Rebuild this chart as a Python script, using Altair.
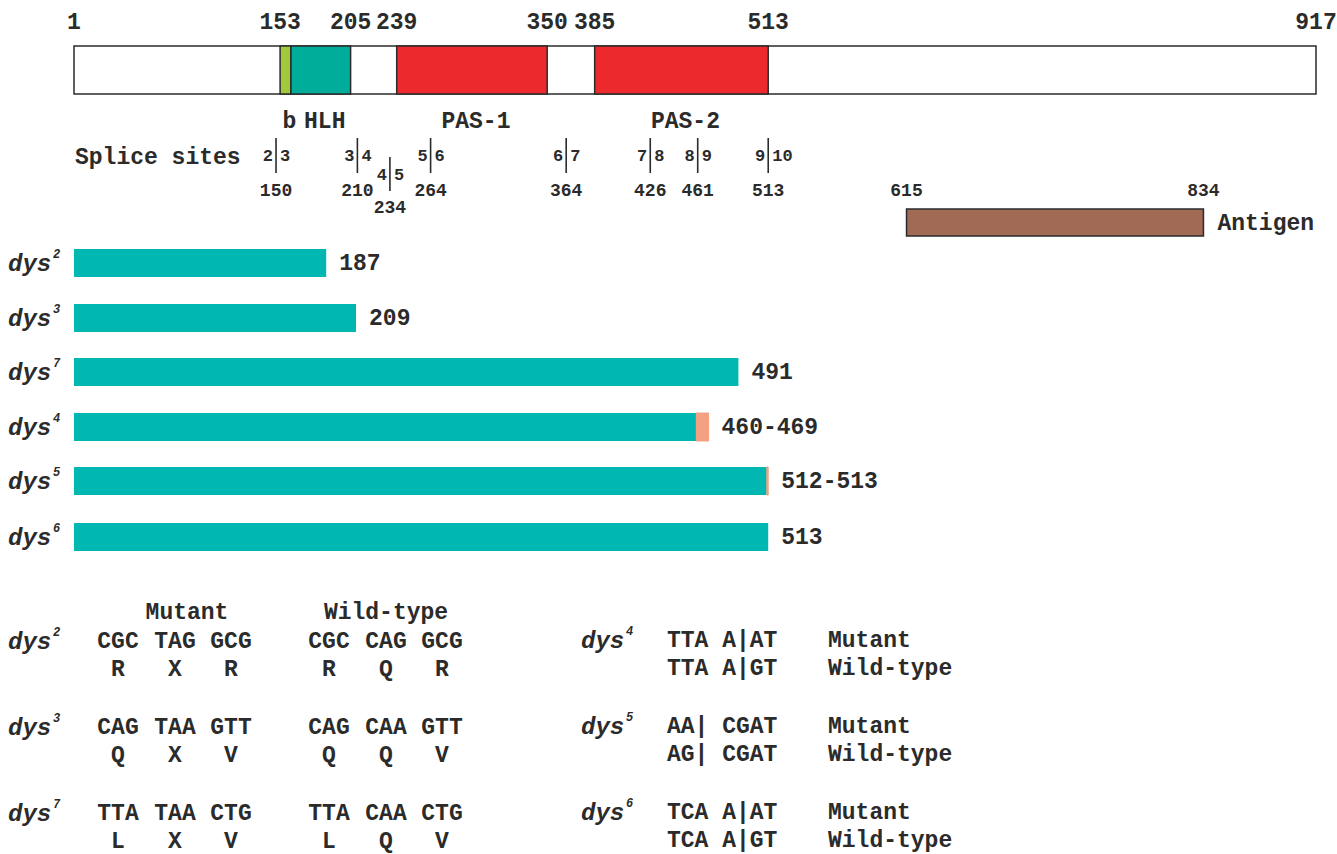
import altair as alt
import pandas as pd

# ---------------- data ----------------
PROTEIN_LEN = 917
domain_names = ["b", "HLH", "PAS-1", "PAS-2"]
domain_start = [153, 161, 239, 385]
domain_end = [161, 205, 350, 513]
domain_colors = ["#a2c93b", "#00ad9a", "#ec2a2e", "#ec2a2e"]
domain_text = ["b", "HLH", "PAS-1", "PAS-2"]

boundary_labels = [1, 153, 205, 239, 350, 385, 513, 917]

splice_pos = [150, 210, 234, 264, 364, 426, 461, 513]
splice_left = ["2", "3", "4", "5", "6", "7", "8", "9"]
splice_right = ["3", "4", "5", "6", "7", "8", "9", "10"]
splice_lowered = [False, False, True, False, False, False, False, False]

antigen_start, antigen_end = 615, 834

alleles = ["2", "3", "7", "4", "5", "6"]
trunc_end = [187, 209, 491, 460, 512, 513]
trunc_tip = [187, 209, 491, 469, 513, 513]
trunc_label = ["187", "209", "491", "460-469", "512-513", "513"]

nonsense_alleles = ["2", "3", "7"]
mut_codons = [["CGC", "TAG", "GCG"], ["CAG", "TAA", "GTT"], ["TTA", "TAA", "CTG"]]
mut_aa = [["R", "X", "R"], ["Q", "X", "V"], ["L", "X", "V"]]
wt_codons = [["CGC", "CAG", "GCG"], ["CAG", "CAA", "GTT"], ["TTA", "CAA", "CTG"]]
wt_aa = [["R", "Q", "R"], ["Q", "Q", "V"], ["L", "Q", "V"]]

splice_alleles = ["4", "5", "6"]
splice_mut = ["TTA A|AT", "AA| CGAT", "TCA A|AT"]
splice_wt = ["TTA A|GT", "AG| CGAT", "TCA A|GT"]

# ---------------- layout / style ----------------
FONT = "Liberation Mono"
INK = "#2b2b2b"
BAR = "#00b8b1"
TIP = "#f4a083"
ANTIGEN = "#a06a55"
FS = 23

RES = alt.Scale(domain=[1, PROTEIN_LEN], range=[74, 1316], nice=False, zero=False)
PX = alt.Scale(domain=[0, 1337], range=[0, 1337], nice=False, zero=False)
YS = alt.Scale(domain=[0, 854], range=[0, 854], nice=False, zero=False)

main_y = (46, 94)
row_y = [263, 318, 372, 427, 481, 537]
bar_half = 14
table_rows = [641, 727, 813]
aa_gap = 28
col_x = [118, 175, 231, 329, 386, 442]


def X(f, sc):
    return alt.X(f"{f}:Q", scale=sc, axis=None)


def Y(f):
    return alt.Y(f"{f}:Q", scale=YS, axis=None)


def texts(df, sc, size, align="center", style="normal", dx=0, dy=0, weight="bold"):
    return alt.Chart(df).mark_text(
        font=FONT, fontSize=size, fontWeight=weight, fontStyle=style,
        align=align, baseline="middle", dx=dx, dy=dy, color=INK
    ).encode(x=X("x", sc), y=Y("y"), text="t:N")


def rects(df, sc, **kw):
    return alt.Chart(df).mark_rect(**kw).encode(
        x=X("x", sc), x2="x2:Q", y=Y("y"), y2="y2:Q"
    )


layers = []

# main protein bar
layers.append(rects(pd.DataFrame({"x": [1], "x2": [PROTEIN_LEN], "y": [main_y[0]], "y2": [main_y[1]]}),
                    RES, fill="white", stroke=INK, strokeWidth=1.5))
# domains
dom_df = pd.DataFrame({"x": domain_start, "x2": domain_end, "name": domain_names,
                       "y": main_y[0], "y2": main_y[1]})
layers.append(alt.Chart(dom_df).mark_rect(stroke=INK, strokeWidth=1.5).encode(
    x=X("x", RES), x2="x2:Q", y=Y("y"), y2="y2:Q",
    color=alt.Color("name:N", scale=alt.Scale(domain=domain_names, range=domain_colors), legend=None)))
# boundary labels
layers.append(texts(pd.DataFrame({"x": boundary_labels, "t": [str(v) for v in boundary_labels], "y": 22}),
                    RES, FS))
# domain names
mids = [(a + b) / 2 for a, b in zip(domain_start, domain_end)]
layers.append(texts(pd.DataFrame({"x": mids, "t": domain_text, "y": 121}), RES, FS, dx=4))

# splice sites
layers.append(texts(pd.DataFrame({"x": [75], "t": ["Splice sites"], "y": [157]}), PX, FS, align="left"))
sp = pd.DataFrame({
    "x": splice_pos, "l": splice_left, "r": splice_right, "num": [str(v) for v in splice_pos],
    "y": [157 if low else 138 for low in splice_lowered],
    "y2": [191 if low else 173 for low in splice_lowered],
    "yd": [175 if low else 156 for low in splice_lowered],
    "yn": [208 if low else 191 for low in splice_lowered],
})
layers.append(alt.Chart(sp).mark_rule(color=INK, strokeWidth=1.6).encode(
    x=X("x", RES), y=Y("y"), y2="y2:Q"))
layers.append(texts(sp.assign(t=sp["l"], y=sp["yd"]), RES, 17, align="right", dx=-3))
layers.append(texts(sp.assign(t=sp["r"], y=sp["yd"]), RES, 17, align="left", dx=4))
layers.append(texts(sp.assign(t=sp["num"], y=sp["yn"]), RES, 18))

# antigen
layers.append(rects(pd.DataFrame({"x": [antigen_start], "x2": [antigen_end], "y": [209], "y2": [236]}),
                    RES, fill=ANTIGEN, stroke=INK, strokeWidth=1.5))
layers.append(texts(pd.DataFrame({"x": [antigen_start, antigen_end],
                                  "t": [str(antigen_start), str(antigen_end)], "y": 191}), RES, 18))
layers.append(texts(pd.DataFrame({"x": [antigen_end], "t": ["Antigen"], "y": [223]}), RES, FS,
                    align="left", dx=14))

# truncated proteins
tr = pd.DataFrame({"allele": alleles, "x": 1, "x2": trunc_end, "tip": trunc_tip,
                   "lab": trunc_label, "yc": row_y})
tr["y"] = tr["yc"] - bar_half
tr["y2"] = tr["yc"] + bar_half
layers.append(rects(tr, RES, fill=BAR))
tips = tr[tr["tip"] > tr["x2"]].copy()
tips["x"] = tips["x2"]
tips["x2"] = tips["tip"]
layers.append(rects(tips, RES, fill=TIP, stroke=TIP, strokeWidth=1))
layers.append(texts(tr.assign(x=tr["tip"], t=tr["lab"], y=tr["yc"]), RES, FS, align="left", dx=13))

# allele labels (dys + superscript)
def allele_labels(xs, ys, names):
    d = pd.DataFrame({"x": xs, "y": ys, "t": "dys"})
    s = pd.DataFrame({"x": [v + 45 for v in xs], "y": ys, "t": names})
    return [texts(d, PX, 24, align="left", style="italic", dy=1),
            texts(s, PX, 12, align="left", style="italic", dy=-9)]

layers += allele_labels([8] * 6, row_y, alleles)

# nonsense table (left)
tok = []
tok.append(("Mutant", 187, 612))
tok.append(("Wild-type", 386, 612))
for i in range(3):
    yc = table_rows[i]
    for j in range(3):
        tok.append((mut_codons[i][j], col_x[j], yc))
        tok.append((mut_aa[i][j], col_x[j], yc + aa_gap))
        tok.append((wt_codons[i][j], col_x[j + 3], yc))
        tok.append((wt_aa[i][j], col_x[j + 3], yc + aa_gap))
layers.append(texts(pd.DataFrame(tok, columns=["t", "x", "y"]), PX, FS))
layers += allele_labels([8] * 3, table_rows, nonsense_alleles)

# splice table (right)
tok2 = []
for i in range(3):
    yc = table_rows[i] - 1
    tok2.append((splice_mut[i], 667, yc))
    tok2.append((splice_wt[i], 667, yc + aa_gap))
    tok2.append(("Mutant", 828, yc))
    tok2.append(("Wild-type", 828, yc + aa_gap))
layers.append(texts(pd.DataFrame(tok2, columns=["t", "x", "y"]), PX, FS, align="left"))
layers += allele_labels([581] * 3, [v - 1 for v in table_rows], splice_alleles)

chart = alt.layer(*layers).resolve_scale(x="independent").properties(
    width=1337, height=854, padding=0, autosize=alt.AutoSizeParams(type="none"),
    background="white"
).configure_view(stroke=None)

chart.save("out.html", embed_options={"renderer": "svg", "actions": False})
